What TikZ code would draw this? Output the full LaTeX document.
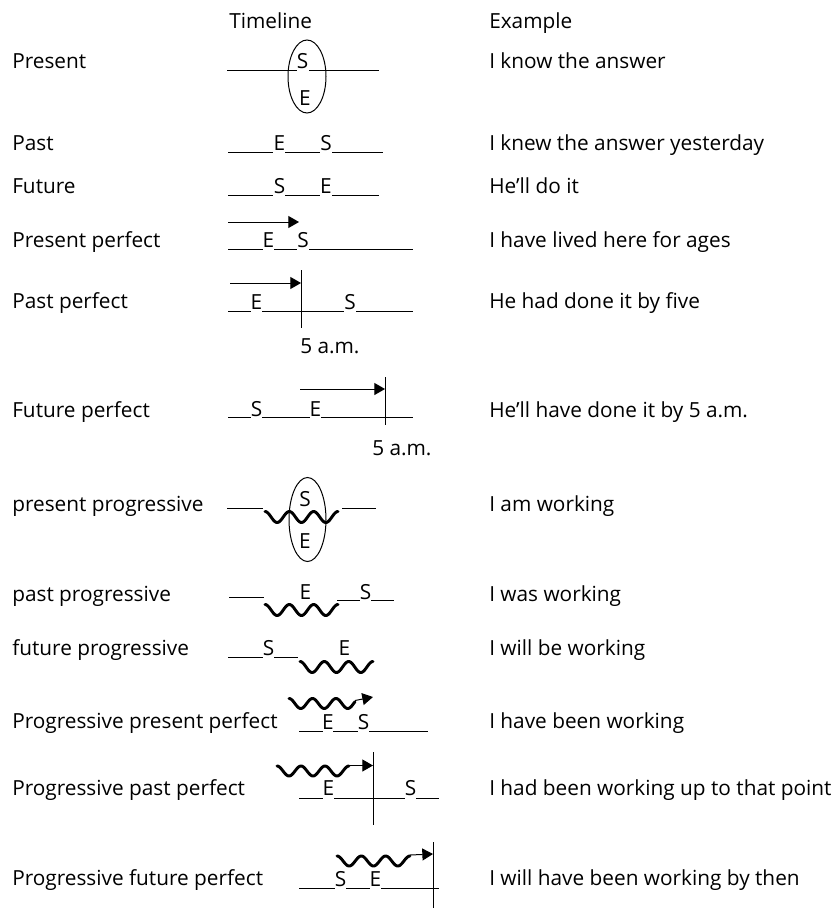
\documentclass[tikz,border=0pt]{standalone}
\usepackage{fontspec}
\setmainfont{Open Sans}
\usetikzlibrary{arrows.meta,shapes.geometric}
\begin{document}
\begin{tikzpicture}[x=0.75pt,y=-0.75pt,
  txt/.style={anchor=base west,inner sep=0pt,font=\fontsize{15.6}{18}\selectfont},
  ltr/.style={anchor=base,inner sep=0pt,font=\fontsize{15.6}{18}\selectfont},
  tl/.style={line width=0.75pt},
  wave/.style={line width=2.2pt,line join=round,line cap=round},
  arr/.style={line width=0.75pt,-{Triangle[length=8pt,width=9pt]}},
  oval/.style={draw,ellipse,line width=0.75pt,inner sep=0pt}]
\useasboundingbox (0,0) rectangle (837,910);
% headers
\node[txt] (hT) at (229,28) {Timeline};
\node[txt] (hE) at (489,28) {Example};
% left labels
\node[txt] (l1) at (12,68) {Present};
\node[txt] (l2) at (12,150) {Past};
\node[txt] (l3) at (12,193) {Future};
\node[txt] (l4) at (12,247) {Present perfect};
\node[txt] (l5) at (12,308) {Past perfect};
\node[txt] (l6) at (12,417) {Future perfect};
\node[txt] (l7) at (12,511) {present progressive};
\node[txt] (l8) at (12,601) {past progressive};
\node[txt] (l9) at (12,655) {future progressive};
\node[txt] (l10) at (12,728) {Progressive present perfect};
\node[txt] (l11) at (12,795) {Progressive past perfect};
\node[txt] (l12) at (12,885) {Progressive future perfect};
% examples
\node[txt] (x1) at (489,68) {I know the answer};
\node[txt] (x2) at (489,150) {I knew the answer yesterday};
\node[txt] (x3) at (489,193) {He’ll do it};
\node[txt] (x4) at (489,247) {I have lived here for ages};
\node[txt] (x5) at (489,308) {He had done it by five};
\node[txt] (x6) at (489,417) {He’ll have done it by 5 a.m.};
\node[txt] (x7) at (489,511) {I am working};
\node[txt] (x8) at (489,601) {I was working};
\node[txt] (x9) at (489,655) {I will be working};
\node[txt] (x10) at (489,728) {I have been working};
\node[txt] (x11) at (489,795) {I had been working up to that point};
\node[txt] (x12) at (489,885) {I will have been working by then};
% Row 1: Present
\node[oval,minimum width=28.5pt,minimum height=54.75pt] (ov1) at (307,76.5) {};
\node[ltr] (s1) at (302.5,68) {S};
\node[ltr] (e1) at (305,105) {E};
\draw[tl] (227,70) -- (297,70) (309,70) -- (379,70);
% Row 2: Past
\node[ltr] (e2) at (279.5,150) {E};
\node[ltr] (s2) at (326,150) {S};
\draw[tl] (228,152) -- (273,152) (285,152) -- (320,152) (332,152) -- (383,152);
% Row 3: Future
\node[ltr] (s3) at (279.5,193) {S};
\node[ltr] (e3) at (326,193) {E};
\draw[tl] (228,195) -- (273,195) (285,195) -- (320,195) (332,195) -- (379,195);
% Row 4: Present perfect
\node[ltr] (e4) at (268.5,247) {E};
\node[ltr] (s4) at (303,247) {S};
\draw[tl] (228,249) -- (263,249) (274,249) -- (297,249) (309,249) -- (413,249);
\coordinate (a4s) at (228,222);
\coordinate (a4e) at (299,222);
\draw[arr] (a4s) -- (a4e);
% Row 5: Past perfect
\node[ltr] (e5) at (256.5,309) {E};
\node[ltr] (s5) at (350,309) {S};
\draw[tl] (228,311) -- (251,311) (262,311) -- (344,311) (356,311) -- (413,311);
\coordinate (v5t) at (301,270);
\coordinate (v5b) at (301,328);
\draw[tl] (v5t) -- (v5b);
\coordinate (a5s) at (230,283);
\coordinate (a5e) at (301,283);
\draw[arr] (a5s) -- (a5e);
\node[txt] (t5) at (300,353) {5 a.m.};
% Row 6: Future perfect
\node[ltr] (s6) at (256.5,416) {S};
\node[ltr] (e6) at (315.5,416) {E};
\draw[tl] (228,417) -- (251,417) (262,417) -- (310,417) (321,417) -- (413,417);
\coordinate (v6t) at (385,377);
\coordinate (v6b) at (385,425);
\draw[tl] (v6t) -- (v6b);
\coordinate (a6s) at (300,389);
\coordinate (a6e) at (385,389);
\draw[arr] (a6s) -- (a6e);
\node[txt] (t6) at (372,455) {5 a.m.};
% Row 7: present progressive
\node[oval,minimum width=27.75pt,minimum height=63pt] (ov7) at (307.5,519.5) {};
\node[ltr] (s7) at (305,506) {S};
\node[ltr] (e7) at (305,548) {E};
\draw[tl] (227,508) -- (263,508) (342,508) -- (376,508);
\draw[wave] plot[domain=0:73,samples=80,smooth] ({265+\x},{517-5.5*cos(\x*14.797)});
% Row 8: past progressive
\node[ltr] (e8) at (305.5,599) {E};
\node[ltr] (s8) at (365.5,599) {S};
\draw[tl] (229,597) -- (264,597) (337,600) -- (360,600) (371,600) -- (394,600);
\draw[wave] plot[domain=0:73,samples=80,smooth] ({265+\x},{610-5.5*cos(\x*14.797)});
% Row 9: future progressive
\node[ltr] (s9) at (268.5,655) {S};
\node[ltr] (e9) at (344.5,655) {E};
\draw[tl] (228,657) -- (263,657) (274,657) -- (298,657);
\draw[wave] plot[domain=0:73,samples=80,smooth] ({300+\x},{667-5.5*cos(\x*14.797)});
% Row 10: Progressive present perfect
\node[ltr] (e10) at (328,729) {E};
\node[ltr] (s10) at (363.5,729) {S};
\draw[tl] (299,731) -- (323,731) (333,731) -- (358,731) (369,731) -- (428,731);
\draw[wave] plot[domain=0:66,samples=80,smooth] ({289+\x},{703.5-5*cos(\x*15.319)});
\coordinate (a10s) at (355,700.5);
\coordinate (a10e) at (373,697);
\draw[arr] (a10s) -- (a10e);
% Row 11: Progressive past perfect
\node[ltr] (e11) at (328.5,795) {E};
\node[ltr] (s11) at (410.5,795) {S};
\draw[tl] (299,798) -- (323,798) (334,798) -- (405,798) (416,798) -- (439,798);
\coordinate (v11t) at (373,752);
\coordinate (v11b) at (373,825);
\draw[tl] (v11t) -- (v11b);
\draw[wave] plot[domain=0:72,samples=80,smooth] ({277+\x},{771-5*cos(\x*15)});
\coordinate (a11s) at (349,765.5);
\coordinate (a11e) at (373,765.5);
\draw[arr] (a11s) -- (a11e);
% Row 12: Progressive future perfect
\node[ltr] (s12) at (340.5,886) {S};
\node[ltr] (e12) at (375.5,886) {E};
\draw[tl] (299,888) -- (335,888) (346,888) -- (370,888) (381,888) -- (439,888);
\coordinate (v12t) at (433,842);
\coordinate (v12b) at (433,908);
\draw[tl] (v12t) -- (v12b);
\draw[wave] plot[domain=0:73,samples=80,smooth] ({337+\x},{861-5*cos(\x*14.797)});
\coordinate (a12s) at (410,855);
\coordinate (a12e) at (433,854);
\draw[arr] (a12s) -- (a12e);
\end{tikzpicture}
\end{document}
